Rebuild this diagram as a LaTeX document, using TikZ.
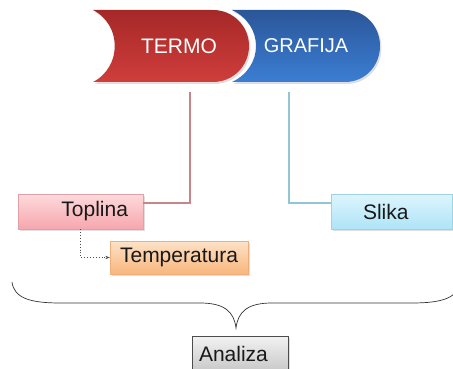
\documentclass[tikz,border=0pt]{standalone}
\usepackage{fontspec}
\setmainfont{Liberation Sans}
\usepackage{tikz}
\usetikzlibrary{shadows,arrows.meta}

\definecolor{termotop}{HTML}{A52828}
\definecolor{termobot}{HTML}{CF3E3B}
\definecolor{grafitop}{HTML}{2B5699}
\definecolor{grafibot}{HTML}{3B7ED3}
\definecolor{redline}{HTML}{C9848A}
\definecolor{blueline}{HTML}{93C6D4}
\definecolor{pinktop}{HTML}{FDDADC}
\definecolor{pinkbot}{HTML}{F6A7AD}
\definecolor{pinkedge}{HTML}{E0A0A5}
\definecolor{peachtop}{HTML}{FDE2C7}
\definecolor{peachbot}{HTML}{F9B67C}
\definecolor{peachedge}{HTML}{EDB07A}
\definecolor{skytop}{HTML}{DDF5FD}
\definecolor{skybot}{HTML}{AEE4F7}
\definecolor{skyedge}{HTML}{9ED3E4}

\begin{document}
\begin{tikzpicture}[x=1pt, y=-1pt,
  font=\fontsize{21}{25}\selectfont,
  shadowed/.style={drop shadow={shadow xshift=1.5pt, shadow yshift=-2pt, opacity=0.25}},
  box/.style={draw, shadowed, minimum height=35pt, inner ysep=0pt, text=black!90},
  captext/.style={text=white}]

\useasboundingbox (0,0) rectangle (453,369);
\clip (0,0) rectangle (453,369);

%% the two halves of the word
\path[shadowed, top color=grafitop, bottom color=grafibot]
 (232,10) -- (345,10) .. controls (365,10) and (380,26) .. (380,46)
 .. controls (380,66) and (365,82) .. (345,82) -- (232,82)
 .. controls (264,67) and (264,25) .. (232,10) -- cycle;
\path[shadowed, top color=termotop, bottom color=termobot]
 (93,10) -- (213,10) .. controls (233,10) and (249,26) .. (249,46)
 .. controls (249,66) and (233,82) .. (213,82) -- (93,82)
 .. controls (122,67) and (122,25) .. (93,10) -- cycle;

\path
(179,46) node[captext](termo) {TERMO}
(306,46) node[captext, font=\fontsize{20}{24}\selectfont](grafija) {GRAFIJA};

%% boxes
\path
(80.5,211.5) node[box, inner xsep=15pt, text width=95pt, align=right,
  draw=pinkedge, top color=pinktop, bottom color=pinkbot](toplina) {Toplina}
(179,257.5) node[box, minimum width=138pt, minimum height=33pt,
  draw=peachedge, top color=peachtop, bottom color=peachbot](temperatura) {Temperatura}
(391.5,211.5) node[box, inner xsep=32pt, text width=57pt, align=left,
  draw=skyedge, top color=skytop, bottom color=skybot](slika) {Slika}
(240,354) node[box, inner xsep=7pt, text width=82pt, align=left, minimum height=36pt,
  draw=black!70, top color=black!5, bottom color=black!22](analiza) {Analiza};

\coordinate (termoline) at (190,92);
\coordinate (grafiline) at (289,92);

%% connectors
\draw[redline, line width=1.2pt] (termoline) |- ([yshift=8.5pt]toplina.east);
\draw[blueline, line width=1.2pt] (grafiline) |- ([yshift=8.5pt]slika.west);
\draw[black!70, dotted, line width=0.9pt, -{Stealth[length=4.5pt]}]
 (toplina.south) |- (temperatura.west);

%% brace
\draw[black!80, line width=0.7pt]
 (12,282) .. controls (14,298) and (30,303) .. (60,303) -- (200,303)
 .. controls (225,303) and (234,312) .. (236,328)
 .. controls (238,312) and (247,303) .. (272,303) -- (412,303)
 .. controls (442,303) and (458,298) .. (460,282);

\end{tikzpicture}
\end{document}
